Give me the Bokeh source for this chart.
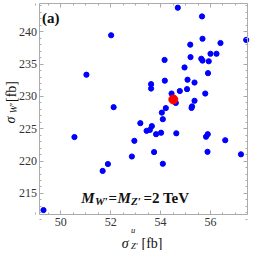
import numpy as np
from bokeh.plotting import figure
from bokeh.models import Range1d, LinearAxis, FixedTicker, Label
from bokeh.embed import file_html
from bokeh.resources import INLINE

# ---- data ----
sigma_z = [52.02, 51.03, 52.12, 54.69, 55.66, 55.68, 56.40, 57.43, 55.19, 56.00,
           56.24, 55.20, 55.63, 55.68, 55.93, 54.16, 54.96, 55.90, 55.08, 55.36,
           54.17, 53.62, 53.62, 54.77, 55.06, 54.44, 55.79, 54.61, 55.36, 55.26,
           55.24, 54.21, 53.19, 50.55, 52.95, 52.85, 51.89, 51.68, 49.31, 54.05,
           54.09, 53.44, 53.57, 53.65, 53.82, 54.02, 54.63, 55.89, 55.82, 56.59,
           53.74, 55.88, 57.22, 54.09]
sigma_w = [239.46, 233.36, 228.34, 243.72, 242.37, 238.92, 238.26, 238.74, 238.01, 236.60,
           236.60, 236.08, 235.83, 235.54, 235.44, 235.64, 234.48, 233.60, 232.59, 232.15,
           232.44, 231.90, 231.22, 230.84, 231.13, 230.45, 230.45, 229.00, 229.33, 228.46,
           228.23, 228.20, 225.87, 223.72, 223.14, 220.71, 219.55, 218.49, 212.43, 227.50,
           226.48, 224.68, 224.83, 225.41, 224.16, 224.39, 224.30, 224.16, 223.77, 223.23,
           221.40, 221.44, 221.05, 219.59]
bench_z = [54.51]
bench_w = [229.53]
x_ticks = [50, 52, 54, 56]
y_ticks = [215, 220, 225, 230, 235, 240]

# plot-box limits (axis extent)
XLO, XHI = 49.13, 57.49
YLO, YHI = 211.7, 244.4

# canvas layout (pixels)
W, H = 250, 250
BOX_L, BOX_R, BOX_T, BOX_B = 38.5, 247.2, 2.8, 214.3

kx = (BOX_R - BOX_L) / (XHI - XLO)
ky = (BOX_B - BOX_T) / (YHI - YLO)
X0 = XLO - BOX_L / kx
X1 = XHI + (W - BOX_R) / kx
Y1 = YHI + BOX_T / ky
Y0 = YLO - (H - BOX_B) / ky

SERIF = "Liberation Serif"
GRAY = "#ababab"

p = figure(width=W, height=H, output_backend="svg", toolbar_location=None,
           x_range=Range1d(X0, X1), y_range=Range1d(Y0, Y1),
           x_axis_location=None, y_axis_location=None, min_border=0)
p.grid.visible = False
p.outline_line_color = None
p.background_fill_color = "white"
p.border_fill_color = "white"

x_minor = list(np.arange(49.0, 58.01, 0.5))
y_minor = list(np.arange(211, 246, 1))


def make_axis(loc, bounds, ticks, minor, labels):
    ax = LinearAxis(fixed_location=loc, bounds=bounds,
                    ticker=FixedTicker(ticks=ticks, minor_ticks=minor))
    ax.axis_line_color = GRAY
    ax.major_tick_line_color = GRAY
    ax.minor_tick_line_color = GRAY
    ax.major_tick_in = 4
    ax.major_tick_out = 0
    ax.minor_tick_in = 2
    ax.minor_tick_out = 0
    ax.major_label_text_font = SERIF
    ax.major_label_text_font_size = "12px"
    ax.major_label_text_color = "#333333" if labels else None
    return ax


ax_b = make_axis(YLO, (XLO, XHI), x_ticks, x_minor, True)
ax_b.major_label_standoff = 3
p.add_layout(ax_b, "below")
ax_t = make_axis(YHI, (XLO, XHI), x_ticks, x_minor, False)
p.add_layout(ax_t, "above")
ax_l = make_axis(XLO, (YLO, YHI), y_ticks, y_minor, True)
ax_l.major_label_standoff = 2
p.add_layout(ax_l, "left")
ax_r = make_axis(XHI, (YLO, YHI), y_ticks, y_minor, False)
p.add_layout(ax_r, "right")

p.scatter(sigma_z, sigma_w, size=5.2, color="#0000ff")
p.scatter(bench_z, bench_w, size=9, color="#ff0000")


def lab(x, y, text, size, style="normal", angle=0.0):
    # x, y: pixels from the canvas top-left (baseline start)
    p.add_layout(Label(x=x, y=H - y, x_units="screen", y_units="screen", text=text,
                       text_font=SERIF, text_font_size=size, text_font_style=style,
                       text_color="#111111", angle=angle,
                       text_align="left", text_baseline="alphabetic"))


# panel tag
lab(41.4, 17.4, "(a)", "15px", "bold")

# annotation M_W' = M_Z' = 2 TeV
lab(80.8, 197.4, "M", "15px", "bold italic")
lab(94.5, 200.2, "W′", "11px", "bold italic")
lab(108.1, 197.4, "=", "15px", "bold")
lab(117.0, 197.4, "M", "15px", "bold italic")
lab(130.6, 200.2, "Z′", "11px", "bold italic")
lab(142.9, 197.4, "=2 TeV", "15px", "bold")

# x-axis label  sigma^u_{Z'} [fb]
lab(121.2, 242.5, "σ", "14px", "italic")
lab(130.6, 229.5, "u", "8.5px", "italic")
lab(130.6, 245.0, "Z′", "8.5px", "italic")
lab(141.0, 242.5, "[fb]", "14px")

# y-axis label  sigma_{W'} [fb]
lab(10.3, 123.1, "σ", "14px", "italic", np.pi / 2)
lab(13.6, 112.8, "W′", "9.5px", "italic", np.pi / 2)
lab(10.8, 101.5, "[fb]", "14px", "normal", np.pi / 2)

open("out.html", "w").write(file_html(p, INLINE))
